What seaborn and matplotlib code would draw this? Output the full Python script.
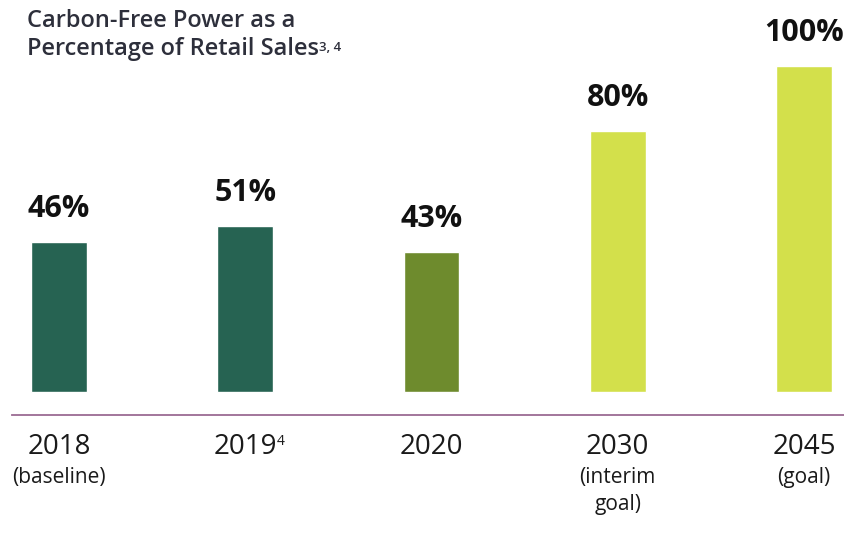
import pandas as pd
import matplotlib.pyplot as plt
import seaborn as sns

# data
years = ['2018', '2019', '2020', '2030', '2045']
notes = ['(baseline)', '', '', '(interim\ngoal)', '(goal)']
values = [46, 51, 43, 80, 100]
groups = ['actual', 'actual', 'recent', 'target', 'target']
palette = {'actual': '#266352', 'recent': '#6e8b2d', 'target': '#d3e04b'}

df = pd.DataFrame({'year': years, 'value': values, 'group': groups})

sns.set_style('white')
plt.rcParams['font.family'] = ['Open Sans', 'DejaVu Sans']

fig = plt.figure(figsize=(8.44, 5.34), dpi=100)
ax = fig.add_axes([12 / 844, 119 / 534, 832 / 844, 375 / 534])

sns.barplot(data=df, x='year', y='value', hue='group', palette=palette,
            width=0.3, dodge=False, legend=False, saturation=1, ax=ax)

ax.set_xlim(-0.252, 4.215)
ax.set_ylim(-7.06, 108)

for s in ['top', 'right', 'left']:
    ax.spines[s].set_visible(False)
ax.spines['bottom'].set_color('#9b6b93')
ax.spines['bottom'].set_linewidth(1.3)
ax.set_yticks([])
ax.set_xlabel('')
ax.set_ylabel('')

# value labels above bars
for i, v in enumerate(values):
    ax.annotate(f'{v}%', xy=(i, v), xytext=(0, 18), textcoords='offset pixels',
                ha='center', va='bottom', fontsize=22, fontweight='bold', color='#111111')

# year labels and notes below
ax.tick_params(axis='x', length=0, pad=13, labelsize=20, labelcolor='#1a1a1a')
ax.set_xticks(range(len(years)))
ax.set_xticklabels(years)
for i, n in enumerate(notes):
    if n:
        ax.annotate(n, xy=(i, 0), xycoords=('data', 'axes fraction'),
                    xytext=(0, -52), textcoords='offset pixels',
                    ha='center', va='top', fontsize=15, color='#1a1a1a',
                    linespacing=1.4)

fig.canvas.draw()
lab2019 = ax.get_xticklabels()[1]
ax.annotate('4', xy=(1, 0.95), xycoords=lab2019, ha='left', va='top',
            fontsize=10, color='#1a1a1a')

# title
fig.text(27 / 844, 1 - 27 / 534, 'Carbon-Free Power as a', fontsize=17,
         fontweight='semibold', color='#2d2f3b', va='baseline', ha='left')
t2 = fig.text(27 / 844, 1 - 55 / 534, 'Percentage of Retail Sales', fontsize=17,
              fontweight='semibold', color='#2d2f3b', va='baseline', ha='left')
fig.canvas.draw()
ax.annotate('3, 4', xy=(1, 0.85), xycoords=t2, ha='left', va='top',
            fontsize=9.5, fontweight='semibold', color='#2d2f3b')

plt.savefig('out.png', dpi=100)
